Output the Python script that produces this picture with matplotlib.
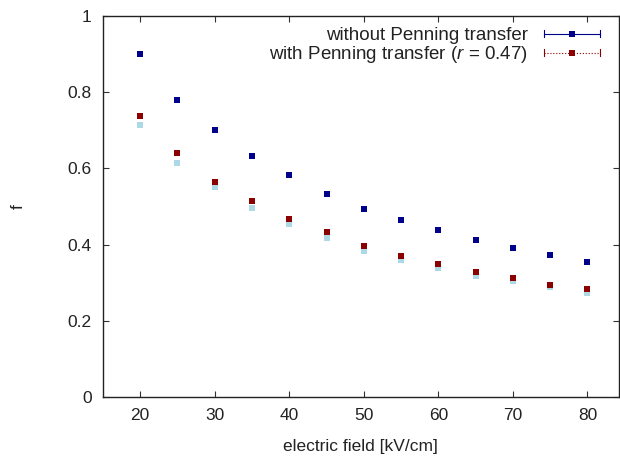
import matplotlib
matplotlib.use("Agg")
import matplotlib.pyplot as plt
from matplotlib.legend_handler import HandlerBase
from matplotlib.lines import Line2D

field = [20, 25, 30, 35, 40, 45, 50, 55, 60, 65, 70, 75, 80]
f_without = [0.900, 0.780, 0.701, 0.633, 0.582, 0.534, 0.493, 0.466, 0.439, 0.412, 0.391, 0.373, 0.354]
f_with = [0.738, 0.641, 0.565, 0.515, 0.468, 0.432, 0.396, 0.370, 0.349, 0.328, 0.312, 0.294, 0.283]
f_with_light = [0.715, 0.615, 0.551, 0.497, 0.454, 0.417, 0.384, 0.360, 0.339, 0.318, 0.305, 0.290, 0.273]
xticks = [20, 30, 40, 50, 60, 70, 80]
yticks = [0, 0.2, 0.4, 0.6, 0.8, 1]
ytick_labels = ["0", "0.2", "0.4", "0.6", "0.8", "1"]

plt.rcParams['font.family'] = ['Liberation Sans', 'DejaVu Sans']
plt.rcParams['mathtext.fontset'] = 'custom'
plt.rcParams['mathtext.it'] = 'Liberation Sans:italic'
plt.rcParams['mathtext.rm'] = 'Liberation Sans'

fig = plt.figure(figsize=(6.2, 4.57), dpi=100)
ax = fig.add_axes([0.166, 0.131, 0.832, 0.834])

c_blue = '#00008b'
c_red = '#8b0000'
c_light = '#add8e6'

ax.plot(field, f_with_light, 's', color=c_light, ms=5.0, mew=0, zorder=2)
ax.plot(field, f_with, 's', color=c_red, ms=5.0, mew=0, zorder=3)
ax.plot(field, f_without, 's', color=c_blue, ms=5.0, mew=0, zorder=4)


class ErrLegend(HandlerBase):
    def __init__(self, color, ls):
        super().__init__()
        self.color = color
        self.ls = ls

    def create_artists(self, legend, orig_handle, xdescent, ydescent, width, height, fontsize, trans):
        y = height / 2 - ydescent
        x0, x1 = -xdescent, -xdescent + width
        line = Line2D([x0, x1], [y, y], color=self.color, lw=0.8, ls=self.ls, transform=trans)
        cap0 = Line2D([x0, x0], [y - 2.5, y + 2.5], color=self.color, lw=0.8, transform=trans)
        cap1 = Line2D([x1, x1], [y - 2.5, y + 2.5], color=self.color, lw=0.8, transform=trans)
        mk = Line2D([(x0 + x1) / 2], [y], marker='s', color=self.color, ms=5.0, mew=0, ls='none', transform=trans)
        return [line, cap0, cap1, mk]


h1 = Line2D([], [])
h2 = Line2D([], [])
leg = ax.legend([h1, h2],
                ["without Penning transfer", r"with Penning transfer ($r$ = 0.47)"],
                handler_map={h1: ErrLegend(c_blue, '-'), h2: ErrLegend(c_red, ':')},
                loc='upper right', frameon=False, markerfirst=False,
                fontsize=13.5, handlelength=3.0, handletextpad=0.85,
                labelspacing=0.0, borderaxespad=0.0, bbox_to_anchor=(0.978, 0.99))
for t in leg.get_texts():
    t.set_color('#222222')

ax.set_xlim(15, 84.2)
ax.set_ylim(0, 1)
ax.set_xticks(xticks)
ax.set_yticks(yticks)
ax.set_yticklabels(ytick_labels)
ax.tick_params(direction='in', top=True, right=True, length=4.5, width=0.8,
               labelsize=12.5, colors='#333333', labelcolor='#222222', pad=8)
for s in ax.spines.values():
    s.set_linewidth(1.0)
    s.set_color('#222222')

ax.set_xlabel("electric field [kV/cm]", fontsize=12.5, color='#222222', labelpad=11)
ax.set_ylabel("f", fontsize=12.5, color='#222222', labelpad=30)

fig.savefig("out.png", dpi=100)
